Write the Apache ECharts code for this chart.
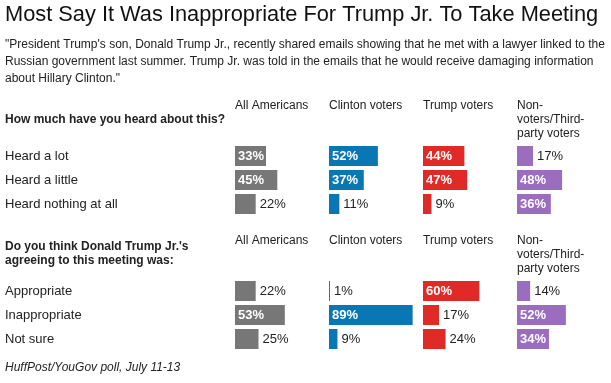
<!DOCTYPE html>
<html><head><meta charset="utf-8">
<script src="https://cdn.jsdelivr.net/npm/echarts@6/dist/echarts.min.js"></script>
<style>html,body{margin:0;padding:0;background:#fff}#c{width:611px;height:383px}</style>
</head><body><div id="c"></div>
<script>
const titleText = 'Most Say It Was Inappropriate For Trump Jr. To Take Meeting';
const subtitleLines = [
  '"President Trump\'s son, Donald Trump Jr., recently shared emails showing that he met with a lawyer linked to the',
  'Russian government last summer. Trump Jr. was told in the emails that he would receive damaging information',
  'about Hillary Clinton."'
];
const question1 = ['How much have you heard about this?'];
const question2 = ['Do you think Donald Trump Jr.\'s', 'agreeing to this meeting was:'];
const groups = [['All Americans'], ['Clinton voters'], ['Trump voters'], ['Non-', 'voters/Third-', 'party voters']];
const rowsQ1 = ['Heard a lot', 'Heard a little', 'Heard nothing at all'];
const rowsQ2 = ['Appropriate', 'Inappropriate', 'Not sure'];
const allQ1 = [33, 45, 22];
const clintonQ1 = [52, 37, 11];
const trumpQ1 = [44, 47, 9];
const nonQ1 = [17, 48, 36];
const allQ2 = [22, 53, 25];
const clintonQ2 = [1, 89, 9];
const trumpQ2 = [60, 17, 24];
const nonQ2 = [14, 52, 34];
const sourceText = 'HuffPost/YouGov poll, July 11-13';

const colors = ['#777777', '#0a77b5', '#e02a27', '#9b6dbe'];
const FONT = '"Liberation Sans", Arial, Helvetica, sans-serif';
const TXT = '#222';
const colLeft = [235, 329, 423, 517];
const colW = 94;
const sectionTop = [144, 279];
const sections = [
  { rows: rowsQ1, data: [allQ1, clintonQ1, trumpQ1, nonQ1] },
  { rows: rowsQ2, data: [allQ2, clintonQ2, trumpQ2, nonQ2] }
];

const grid = [], xAxis = [], yAxis = [], series = [];
sections.forEach((sec, si) => {
  sec.data.forEach((vals, ci) => {
    const idx = grid.length;
    grid.push({ left: colLeft[ci], top: sectionTop[si], width: colW, height: 72, containLabel: false });
    xAxis.push({ type: 'value', gridIndex: idx, min: 0, max: 100, show: false });
    yAxis.push({
      type: 'category', gridIndex: idx, data: sec.rows, inverse: true,
      axisLine: { show: false }, axisTick: { show: false }, splitLine: { show: false },
      axisLabel: ci === 0 ? { show: true, align: 'left', margin: 230, fontFamily: FONT, fontSize: 13, color: TXT } : { show: false }
    });
    series.push({
      type: 'bar', xAxisIndex: idx, yAxisIndex: idx, barWidth: 20, silent: true,
      itemStyle: { color: colors[ci] },
      data: vals.map(v => ({
        value: v,
        label: v >= 30
          ? { show: true, position: 'insideLeft', distance: 3, color: '#fff', fontWeight: 'bold' }
          : { show: true, position: 'right', distance: 4, color: TXT, fontWeight: 'normal' }
      })),
      label: { show: true, formatter: '{c}%', fontFamily: FONT, fontSize: 13 }
    });
  });
});

const graphic = [];
function txt(x, y, s, style) {
  graphic.push({ type: 'text', left: x, top: y, silent: true,
    style: Object.assign({ text: s, fill: TXT, font: '13px ' + FONT, textVerticalAlign: 'top' }, style || {}) });
}
txt(5, 4, titleText, { font: '21.8px ' + FONT, fill: '#111' });
subtitleLines.forEach((l, i) => txt(5, 39 + i * 17, l, { font: '12px ' + FONT }));
// section headers
[[100, question1, 114], [235, question2, 241]].forEach(([hy, q, qy], si) => {
  groups.forEach((g, ci) => g.forEach((line, li) => txt(colLeft[ci], hy + li * 14, line, { font: '12px ' + FONT })));
  q.forEach((line, li) => txt(5, qy + li * 13.5, line, { font: 'bold 12px ' + FONT }));
});
txt(5, 362, sourceText, { font: 'italic 12px ' + FONT });

const chart = echarts.init(document.getElementById('c'), null, { renderer: 'canvas' });
chart.setOption({ animation: false, grid, xAxis, yAxis, series, graphic });
</script></body></html>
